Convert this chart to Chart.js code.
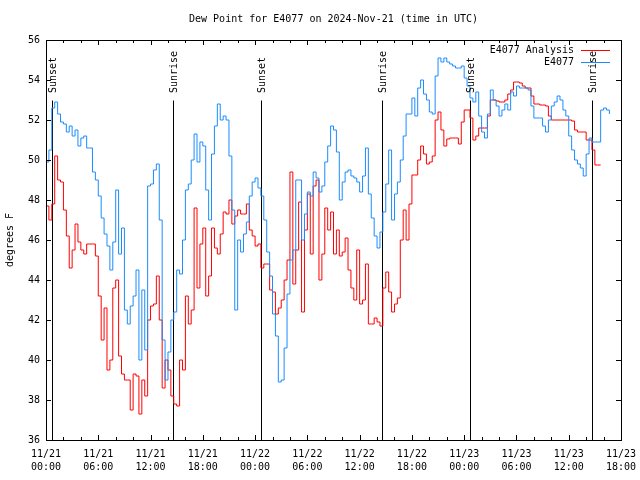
<!DOCTYPE html>
<html>
<head>
<meta charset="utf-8">
<title>Dew Point for E4077</title>
<script src="https://cdn.jsdelivr.net/npm/chart.js@4.4.1/dist/chart.umd.min.js"></script>
<style>
  html, body { margin: 0; padding: 0; background: #fff; }
  #wrap { width: 640px; height: 480px; }
</style>
</head>
<body>
<div id="wrap"><canvas id="dewChart" width="640" height="480"></canvas></div>
<script>
// one reading every 20 minutes, starting 11/21 00:00 UTC
const stepHours = 1 / 3;

// E4077 Analysis (deg F)
const analysis = [
  47.7, 47.0, 47.8, 50.2, 49.0, 48.9, 47.5, 46.2, 44.6, 45.5,
  46.8, 45.9, 45.5, 45.3, 45.8, 45.8, 45.8, 45.2, 43.2, 41.0,
  42.6, 39.5, 40.0, 43.6, 44.0, 40.2, 39.3, 39.0, 39.0, 37.5,
  39.3, 39.2, 37.3, 39.0, 38.2, 42.0, 42.7, 42.8, 44.2, 42.0,
  38.6, 40.0, 39.5, 38.2, 37.8, 37.7, 40.0, 39.5, 43.2, 41.8,
  42.5, 47.6, 43.6, 45.8, 46.6, 43.2, 44.2, 46.6, 45.6, 45.3,
  46.3, 47.4, 47.3, 48.0, 46.8, 47.2, 47.5, 47.3, 47.3, 47.8,
  46.5, 46.2, 45.7, 45.8, 44.6, 44.8, 44.8, 43.5, 43.4, 42.3,
  42.6, 43.0, 44.0, 45.0, 49.4, 43.8, 45.5, 47.9, 42.4, 46.5,
  48.3, 45.3, 48.7, 49.0, 44.0, 45.3, 47.6, 46.5, 47.4, 45.3,
  46.5, 45.2, 45.4, 46.1, 44.5, 43.6, 43.0, 45.5, 42.8, 43.0,
  44.8, 41.8, 41.8, 42.1, 41.9, 41.7, 43.6, 44.4, 43.4, 42.4,
  42.8, 43.1, 46.0, 47.5, 46.0, 47.8, 49.25, 49.25, 50.0, 50.7,
  50.3, 49.8, 49.9, 50.2, 52.0, 52.4, 51.5, 50.7, 51.05, 51.1,
  51.1, 51.1, 50.8, 51.9, 52.5, 52.5, 52.1, 51.0, 51.2, 51.6,
  51.6, 51.6, 52.2, 53.0, 53.0, 52.95, 52.9, 52.9, 53.0, 53.3,
  53.5, 53.9, 53.9, 53.85, 53.7, 53.6, 53.6, 53.2, 52.8, 52.8,
  52.75, 52.75, 52.7, 52.2, 52.0, 52.0, 52.0, 52.0, 52.0, 52.0,
  52.0, 51.95, 51.5, 51.4, 51.4, 51.4, 51.0, 51.0, 50.5, 49.75,
  49.75, 49.75
];

// E4077 station observations (deg F)
const station = [
  49.9, 50.5, 52.6, 52.9, 52.3, 51.9, 51.8, 51.4, 51.7, 51.2,
  51.5, 50.7, 51.1, 51.2, 50.6, 50.6, 49.4, 49.0, 48.2, 47.1,
  46.3, 45.7, 44.5, 45.9, 48.5, 45.3, 46.6, 42.5, 41.8, 42.7,
  43.2, 44.5, 40.0, 43.5, 40.5, 48.7, 48.8, 49.5, 49.8, 47.0,
  41.0, 39.0, 40.4, 42.0, 42.4, 44.5, 44.3, 46.0, 48.5, 48.8,
  50.0, 51.3, 49.9, 50.9, 50.7, 48.5, 47.0, 50.3, 51.7, 52.8,
  52.0, 52.2, 52.0, 50.2, 47.5, 42.5, 46.0, 45.4, 46.3, 46.9,
  48.2, 48.9, 49.1, 48.6, 48.2, 47.0, 45.4, 44.2, 42.3, 41.2,
  38.9, 39.0, 40.6, 43.3, 45.0, 45.5, 49.0, 49.0, 46.0, 47.3,
  48.4, 48.2, 49.4, 49.1, 48.4, 48.7, 49.9, 50.7, 51.7, 51.5,
  50.4, 48.0, 48.9, 49.4, 49.5, 49.2, 49.1, 48.9, 48.4, 49.2,
  50.6, 48.3, 47.1, 46.2, 45.6, 46.4, 47.4, 48.8, 50.5, 47.0,
  48.3, 48.9, 50.0, 51.2, 52.3, 52.3, 53.1, 52.2, 53.6, 54.0,
  53.3, 53.0, 52.4, 52.3, 54.2, 55.1, 54.9, 55.1, 54.9, 54.8,
  54.7, 54.6, 54.6, 54.7, 54.1, 53.7, 53.1, 52.9, 53.4, 52.2,
  51.4, 51.1, 52.3, 53.5, 53.0, 52.7, 52.2, 52.5, 52.8, 52.5,
  53.4, 53.2, 53.7, 53.6, 53.6, 53.6, 53.5, 52.7, 52.1, 52.1,
  52.1, 51.7, 51.4, 52.0, 52.7, 52.9, 53.2, 53.0, 52.5, 52.2,
  51.2, 50.5, 50.0, 49.8, 49.6, 49.2, 50.3, 51.1, 50.9, 50.9,
  50.9, 52.5, 52.6, 52.5, 52.3
];

// sunrise / sunset, hours after 11/21 00:00 UTC
const sunHours = [0.72, 14.6, 24.72, 38.6, 48.7, 62.7];
const sunLabels = ['Sunset', 'Sunrise', 'Sunset', 'Sunrise', 'Sunset', 'Sunrise'];
const sunLineTop = 53;

const xTickHours = [0, 6, 12, 18, 24, 30, 36, 42, 48, 54, 60, 66];
const xTickLabels = [
  ['11/21', '00:00'], ['11/21', '06:00'], ['11/21', '12:00'], ['11/21', '18:00'],
  ['11/22', '00:00'], ['11/22', '06:00'], ['11/22', '12:00'], ['11/22', '18:00'],
  ['11/23', '00:00'], ['11/23', '06:00'], ['11/23', '12:00'], ['11/23', '18:00']
];
const yMin = 36, yMax = 56, yStep = 2;

const mono = '"DejaVu Sans Mono", "Liberation Mono", monospace';
const redColor = '#ff0000';
const blueColor = '#1a8cff';

function toPoints(values) {
  return values.map((v, i) => ({ x: i * stepHours, y: v }));
}

const gnuplotLook = {
  id: 'gnuplotLook',
  beforeDatasetsDraw(chart) {
    const { ctx, chartArea: a, scales: { x, y } } = chart;
    ctx.save();
    ctx.strokeStyle = '#000';
    ctx.lineWidth = 1;
    const top = Math.round(y.getPixelForValue(sunLineTop)) + 0.5;
    sunHours.forEach(h => {
      const px = Math.round(x.getPixelForValue(h)) + 0.5;
      ctx.beginPath();
      ctx.moveTo(px, a.bottom);
      ctx.lineTo(px, top);
      ctx.stroke();
    });
    ctx.restore();
  },
  afterDraw(chart) {
    const { ctx, chartArea: a, scales: { x, y } } = chart;
    ctx.save();
    ctx.strokeStyle = '#000';
    ctx.lineWidth = 1;
    ctx.strokeRect(a.left + 0.5, a.top + 0.5, a.right - a.left, a.bottom - a.top);

    // inward ticks, mirrored on all sides
    ctx.beginPath();
    for (let h = 0; h <= 66; h += 2) {
      const px = Math.round(x.getPixelForValue(h)) + 0.5;
      const len = h % 6 === 0 ? 5 : 3;
      ctx.moveTo(px, a.bottom); ctx.lineTo(px, a.bottom - len);
      ctx.moveTo(px, a.top); ctx.lineTo(px, a.top + len);
    }
    for (let v = yMin; v <= yMax; v += yStep) {
      const py = Math.round(y.getPixelForValue(v)) + 0.5;
      ctx.moveTo(a.left, py); ctx.lineTo(a.left + 5, py);
      ctx.moveTo(a.right, py); ctx.lineTo(a.right - 5, py);
    }
    ctx.stroke();

    ctx.fillStyle = '#000';
    ctx.font = '10px ' + mono;

    // title
    ctx.textAlign = 'center';
    ctx.textBaseline = 'middle';
    ctx.fillText('Dew Point for E4077 on 2024-Nov-21 (time in UTC)', (a.left + a.right) / 2, 19);

    // y axis title
    ctx.save();
    ctx.translate(10, (a.top + a.bottom) / 2);
    ctx.rotate(-Math.PI / 2);
    ctx.fillText('degrees F', 0, 0);
    ctx.restore();

    // sunrise / sunset labels, reading upward from just above each line
    const labelStart = y.getPixelForValue(sunLineTop) - 7;
    sunHours.forEach((h, i) => {
      const px = x.getPixelForValue(h) + 1;
      ctx.save();
      ctx.translate(px, labelStart);
      ctx.rotate(-Math.PI / 2);
      ctx.textAlign = 'left';
      ctx.textBaseline = 'middle';
      ctx.fillText(sunLabels[i], 0, 0);
      ctx.restore();
    });

    // legend
    const entries = [['E4077 Analysis', redColor], ['E4077', blueColor]];
    entries.forEach(([name, col], i) => {
      const ly = a.top + 10 + i * 12;
      ctx.textAlign = 'right';
      ctx.fillStyle = '#000';
      ctx.fillText(name, a.right - 47, ly);
      ctx.strokeStyle = col;
      ctx.beginPath();
      ctx.moveTo(a.right - 40, Math.round(ly) + 0.5);
      ctx.lineTo(a.right - 11, Math.round(ly) + 0.5);
      ctx.stroke();
    });
    ctx.restore();
  }
};

new Chart(document.getElementById('dewChart'), {
  type: 'line',
  data: {
    datasets: [
      {
        label: 'E4077 Analysis',
        data: toPoints(analysis),
        borderColor: redColor,
        borderWidth: 1,
        pointRadius: 0,
        stepped: 'before',
        order: 1
      },
      {
        label: 'E4077',
        data: toPoints(station),
        borderColor: blueColor,
        borderWidth: 1,
        pointRadius: 0,
        stepped: 'before',
        order: 0
      }
    ]
  },
  options: {
    responsive: false,
    animation: false,
    layout: { padding: { left: 0, right: 19, top: 40, bottom: 0 } },
    plugins: { legend: { display: false }, tooltip: { enabled: false }, title: { display: false } },
    scales: {
      x: {
        type: 'linear',
        min: 0,
        max: 66,
        afterFit(scale) {
          scale.height = 40;
          scale.paddingLeft = 0;
          scale.paddingRight = 0;
        },
        afterBuildTicks(scale) { scale.ticks = xTickHours.map(v => ({ value: v })); },
        grid: { display: false, drawTicks: false },
        border: { display: false },
        ticks: {
          autoSkip: false,
          maxRotation: 0,
          padding: 8,
          color: '#000',
          font: { family: mono, size: 10, lineHeight: 1.3 },
          callback: (v) => xTickLabels[xTickHours.indexOf(v)]
        }
      },
      y: {
        min: yMin,
        max: yMax,
        afterFit(scale) {
          scale.width = 46;
          scale.paddingTop = 0;
          scale.paddingBottom = 0;
        },
        grid: { display: false, drawTicks: false },
        border: { display: false },
        ticks: {
          stepSize: yStep,
          padding: 6,
          color: '#000',
          font: { family: mono, size: 10 }
        }
      }
    }
  },
  plugins: [gnuplotLook]
});
</script>
</body>
</html>
